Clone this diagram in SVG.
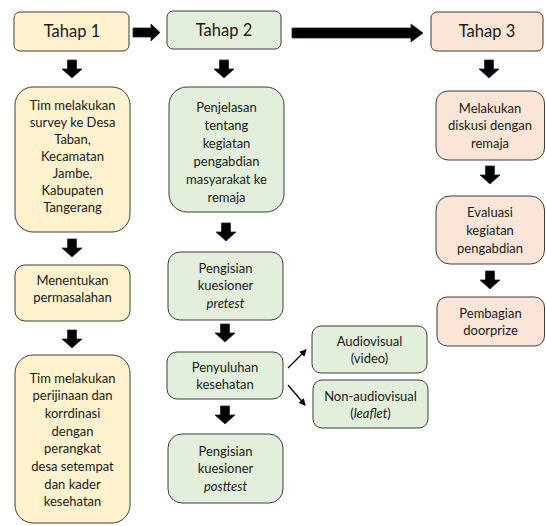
<svg xmlns="http://www.w3.org/2000/svg" xmlns:xlink="http://www.w3.org/1999/xlink" width="546" height="526" viewBox="0 0 546 526">
<style>
.b{stroke:#3d3d3d;stroke-width:1}
.y{fill:#FFF2CC}
.g{fill:#E2EFDA}
.p{fill:#FBE5D6}
text{font-family:Lato,"Liberation Sans",sans-serif;font-size:13px;fill:#1a1a1a;text-anchor:middle}
.t{font-size:16.5px}
.i{font-style:italic}
.blk{fill:#000;stroke:#1c2a44;stroke-width:0.8}
.thin{stroke:#000;stroke-width:1.3;fill:none}
</style>
<defs>
<path id="darr" d="M-4.5,0 H4.5 V9 H10 L0,18 L-10,9 H-4.5 Z"/>
<marker id="ah" markerWidth="8" markerHeight="8" refX="6" refY="4" orient="auto" markerUnits="userSpaceOnUse">
<path d="M0,0.5 L7,4 L0,7.5 Z" fill="#000"/>
</marker>
</defs>
<rect width="546" height="526" fill="#fff"/>
<g id="connectors">
<path class="blk" d="M133,28 H151 V24 L160,32.5 L151,41 V37 H133 Z"/>
<path class="blk" d="M292,28 H411 V24 L423,33 L411,42 V38 H292 Z"/>
<use xlink:href="#darr" class="blk" transform="translate(72,60)"/>
<use xlink:href="#darr" class="blk" transform="translate(72,239)"/>
<use xlink:href="#darr" class="blk" transform="translate(72,330)"/>
<use xlink:href="#darr" class="blk" transform="translate(224,60)"/>
<use xlink:href="#darr" class="blk" transform="translate(226,223)"/>
<use xlink:href="#darr" class="blk" transform="translate(225,324)"/>
<use xlink:href="#darr" class="blk" transform="translate(225,406)"/>
<use xlink:href="#darr" class="blk" transform="translate(489,60)"/>
<use xlink:href="#darr" class="blk" transform="translate(490,166)"/>
<use xlink:href="#darr" class="blk" transform="translate(490,271)"/>
<line class="thin" x1="288" y1="368" x2="306" y2="350" marker-end="url(#ah)"/>
<line class="thin" x1="288" y1="385" x2="305" y2="405" marker-end="url(#ah)"/>
</g>
<g id="tahap1">
<rect class="b y" x="14" y="12" width="115" height="39" rx="6"/>
<text class="t" x="72" y="37">Tahap 1</text>
</g>
<g id="survey">
<rect class="b y" x="15" y="87" width="115" height="145" rx="18"/>
<text x="72.5" y="109.5">Tim melakukan</text>
<text x="72.5" y="126.6">survey ke Desa</text>
<text x="72.5" y="143.7">Taban,</text>
<text x="72.5" y="160.8">Kecamatan</text>
<text x="72.5" y="177.9">Jambe,</text>
<text x="72.5" y="195">Kabupaten</text>
<text x="72.5" y="212.1">Tangerang</text>
</g>
<g id="masalah">
<rect class="b y" x="15" y="265" width="115" height="56" rx="10"/>
<text x="72.5" y="284.5">Menentukan</text>
<text x="72.5" y="301.5">permasalahan</text>
</g>
<g id="perijinan">
<rect class="b y" x="15" y="355" width="115" height="168" rx="18"/>
<text x="72.5" y="382.5">Tim melakukan</text>
<text x="72.5" y="400.2">perijinaan dan</text>
<text x="72.5" y="417.9">korrdinasi</text>
<text x="72.5" y="435.6">dengan</text>
<text x="72.5" y="453.3">perangkat</text>
<text x="72.5" y="471">desa setempat</text>
<text x="72.5" y="488.7">dan kader</text>
<text x="72.5" y="506.4">kesehatan</text>
</g>
<g id="tahap2">
<rect class="b g" x="167" y="11" width="114" height="38" rx="6"/>
<text class="t" x="224" y="36">Tahap 2</text>
</g>
<g id="penjelasan">
<rect class="b g" x="169" y="87" width="115" height="125" rx="18"/>
<text x="226.5" y="111.5">Penjelasan</text>
<text x="226.5" y="129.5">tentang</text>
<text x="226.5" y="147.5">kegiatan</text>
<text x="226.5" y="165.5">pengabdian</text>
<text x="226.5" y="183.5">masyarakat ke</text>
<text x="226.5" y="201.5">remaja</text>
</g>
<g id="pretest">
<rect class="b g" x="168" y="252" width="115" height="68" rx="12"/>
<text x="225.5" y="272.5">Pengisian</text>
<text x="225.5" y="290">kuesioner</text>
<text class="i" x="225.5" y="307.5">pretest</text>
</g>
<g id="penyuluhan">
<rect class="b g" x="167" y="352" width="116" height="47" rx="10"/>
<text x="225" y="371.5">Penyuluhan</text>
<text x="225" y="388.5">kesehatan</text>
</g>
<g id="posttest">
<rect class="b g" x="168" y="434" width="115" height="69" rx="14"/>
<text x="225.5" y="455.5">Pengisian</text>
<text x="225.5" y="473">kuesioner</text>
<text class="i" x="225.5" y="490.5">posttest</text>
</g>
<g id="audiovisual">
<rect class="b g" x="312" y="326" width="115" height="47" rx="9"/>
<text x="369.5" y="345.5">Audiovisual</text>
<text x="369.5" y="362.5">(video)</text>
</g>
<g id="nonaudiovisual">
<rect class="b g" x="313" y="380" width="115" height="48" rx="9"/>
<text x="370.5" y="400.5">Non-audiovisual</text>
<text x="370.5" y="417.5">(<tspan class="i">leaflet</tspan>)</text>
</g>
<g id="tahap3">
<rect class="b p" x="431" y="12" width="112" height="39" rx="6"/>
<text class="t" x="487" y="37">Tahap 3</text>
</g>
<g id="diskusi">
<rect class="b p" x="436" y="91" width="108.5" height="69" rx="12"/>
<text x="490" y="112.5">Melakukan</text>
<text x="490" y="130">diskusi dengan</text>
<text x="490" y="147.5">remaja</text>
</g>
<g id="evaluasi">
<rect class="b p" x="436" y="196" width="108.5" height="68" rx="14"/>
<text x="490" y="216.5">Evaluasi</text>
<text x="490" y="234.5">kegiatan</text>
<text x="490" y="252.5">pengabdian</text>
</g>
<g id="doorprize">
<rect class="b p" x="437" y="297" width="107.5" height="49" rx="10"/>
<text x="490.5" y="317.5">Pembagian</text>
<text x="490.5" y="334.5">doorprize</text>
</g>
</svg>
